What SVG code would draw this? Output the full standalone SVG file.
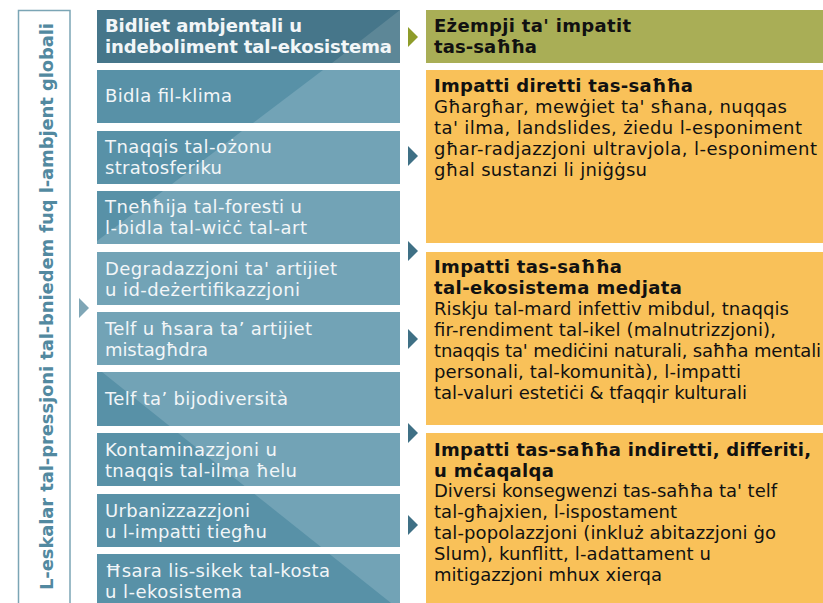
<svg xmlns="http://www.w3.org/2000/svg" width="823" height="603" viewBox="0 0 823 603">
<defs>
<style>
.t{font-family:"DejaVu Sans","Verdana",sans-serif;font-size:18px}
.b{font-weight:bold}
.w{fill:#f2f6f8}
.k{fill:#111111}
.lt{fill:#72a3b6}
.dk{fill:#5891a7}
.or{fill:#f9c159}
.arr{fill:#3f7085}
</style>
<polygon id="tri" points="0,-10 10,0 0,10"/>
</defs>
<rect width="823" height="603" fill="#ffffff"/>

<g id="axis">
<rect x="18.5" y="10.5" width="51.5" height="600" fill="none" stroke="#7ba5b5" stroke-width="1.5"/>
<text class="t b" transform="translate(53,306.5) rotate(-90)" text-anchor="middle" textLength="567" fill="#5289a0">L-eskalar tal-pressjoni tal-bniedem fuq l-ambjent globali</text>
</g>

<g id="hdr-left">
<rect x="97" y="10" width="303" height="53" fill="#46768a"/>
<polygon points="400,10 400,63 332,63" fill="#5d8797"/>
<text class="t b w" x="105" y="32" textLength="197">Bidliet ambjentali u</text>
<text class="t b w" x="105" y="53" textLength="287">indeboliment tal-ekosistema</text>
</g>

<g id="hdr-right">
<rect x="426" y="10" width="397" height="53" fill="#a9ae56"/>
<text class="t b k" x="434" y="32" textLength="197">Eżempji ta' impatit</text>
<text class="t b k" x="434" y="53" textLength="103">tas-saħħa</text>
</g>

<g id="n1">
<rect class="lt" x="97" y="70" width="303" height="53"/>
<polygon class="dk" points="97,70 323,70 253,123 97,123"/>
<text class="t w" x="105" y="102" textLength="127">Bidla fil-klima</text>
</g>
<g id="n2">
<rect class="lt" x="97" y="131" width="303" height="53"/>
<polygon class="dk" points="97,131 242,131 172,184 97,184"/>
<text class="t w" x="105" y="153" textLength="167">Tnaqqis tal-ożonu</text>
<text class="t w" x="105" y="174" textLength="117">stratosferiku</text>
</g>
<g id="n3">
<rect class="lt" x="97" y="191" width="303" height="53"/>
<polygon class="dk" points="97,191 163,191 97,241"/>
<text class="t w" x="105" y="213" textLength="197">Tneħħija tal-foresti u</text>
<text class="t w" x="105" y="234" textLength="202">l-bidla tal-wiċċ tal-art</text>
</g>
<g id="n4">
<rect class="lt" x="97" y="252" width="303" height="53"/>
<text class="t w" x="105" y="275" textLength="232">Degradazzjoni ta' artijiet</text>
<text class="t w" x="105" y="296" textLength="195">u id-deżertifikazzjoni</text>
</g>
<g id="n5">
<rect class="lt" x="97" y="312" width="303" height="53"/>
<text class="t w" x="105" y="335" textLength="207">Telf u ħsara ta’ artijiet</text>
<text class="t w" x="105" y="356" textLength="103">mistagħdra</text>
</g>
<g id="n6">
<rect class="lt" x="97" y="372" width="303" height="54"/>
<polygon class="dk" points="97,372 102,372 169.5,426 97,426"/>
<text class="t w" x="105" y="405" textLength="183">Telf ta’ bijodiversità</text>
</g>
<g id="n7">
<rect class="lt" x="97" y="433" width="303" height="53"/>
<polygon class="dk" points="97,433 178,433 244.5,486 97,486"/>
<text class="t w" x="105" y="456" textLength="172">Kontaminazzjoni u</text>
<text class="t w" x="105" y="477" textLength="192">tnaqqis tal-ilma ħelu</text>
</g>
<g id="n8">
<rect class="lt" x="97" y="494" width="303" height="53"/>
<polygon class="dk" points="97,494 254.5,494 321,547 97,547"/>
<text class="t w" x="105" y="517" textLength="145">Urbanizzazzjoni</text>
<text class="t w" x="105" y="538" textLength="162">u l-impatti tiegħu</text>
</g>
<g id="n9">
<rect class="lt" x="97" y="554" width="303" height="49"/>
<polygon class="dk" points="97,554 329.5,554 391,603 97,603"/>
<text class="t w" x="105" y="577" textLength="225">Ħsara lis-sikek tal-kosta</text>
<text class="t w" x="105" y="598" textLength="137">u l-ekosistema</text>
</g>

<g id="r1">
<rect class="or" x="426" y="70" width="397" height="173"/>
<text class="t b k" x="434" y="92" textLength="259">Impatti diretti tas-saħħa</text>
<text class="t k" x="434" y="113" textLength="353">Għargħar, mewġiet ta' sħana, nuqqas</text>
<text class="t k" x="434" y="134" textLength="368">ta' ilma, landslides, żiedu l-esponiment</text>
<text class="t k" x="434" y="155" textLength="383">għar-radjazzjoni ultravjola, l-esponiment</text>
<text class="t k" x="434" y="176" textLength="213">għal sustanzi li jniġġsu</text>
</g>
<g id="r2">
<rect class="or" x="426" y="252" width="397" height="173"/>
<text class="t b k" x="434" y="273" textLength="188">Impatti tas-saħħa</text>
<text class="t b k" x="434" y="294" textLength="248">tal-ekosistema medjata</text>
<text class="t k" x="434" y="315" textLength="355">Riskju tal-mard infettiv mibdul, tnaqqis</text>
<text class="t k" x="434" y="336" textLength="342">fir-rendiment tal-ikel (malnutrizzjoni),</text>
<text class="t k" x="434" y="357" textLength="387">tnaqqis ta' mediċini naturali, saħħa mentali</text>
<text class="t k" x="434" y="378" textLength="307">personali, tal-komunità), l-impatti</text>
<text class="t k" x="434" y="399" textLength="313">tal-valuri estetiċi &amp; tfaqqir kulturali</text>
</g>
<g id="r3">
<rect class="or" x="426" y="433" width="397" height="170"/>
<text class="t b k" x="434" y="456" textLength="377">Impatti tas-saħħa indiretti, differiti,</text>
<text class="t b k" x="434" y="477" textLength="120">u mċaqalqa</text>
<text class="t k" x="434" y="497" textLength="343">Diversi konsegwenzi tas-saħħa ta' telf</text>
<text class="t k" x="434" y="518" textLength="243">tal-għajxien, l-ispostament</text>
<text class="t k" x="434" y="539" textLength="342">tal-popolazzjoni (inkluż abitazzjoni ġo</text>
<text class="t k" x="434" y="560" textLength="277">Slum), kunflitt, l-adattament u</text>
<text class="t k" x="434" y="581" textLength="228">mitigazzjoni mhux xierqa</text>
</g>

<g id="connectors">
<use href="#tri" transform="translate(79,308)" fill="#7fa6b6"/>
<use href="#tri" transform="translate(408,37)" fill="#8e9c2a"/>
<use href="#tri" class="arr" transform="translate(408,156)"/>
<use href="#tri" class="arr" transform="translate(408,251)"/>
<use href="#tri" class="arr" transform="translate(408,339)"/>
<use href="#tri" class="arr" transform="translate(408,433)"/>
<use href="#tri" class="arr" transform="translate(408,525)"/>
</g>
</svg>
